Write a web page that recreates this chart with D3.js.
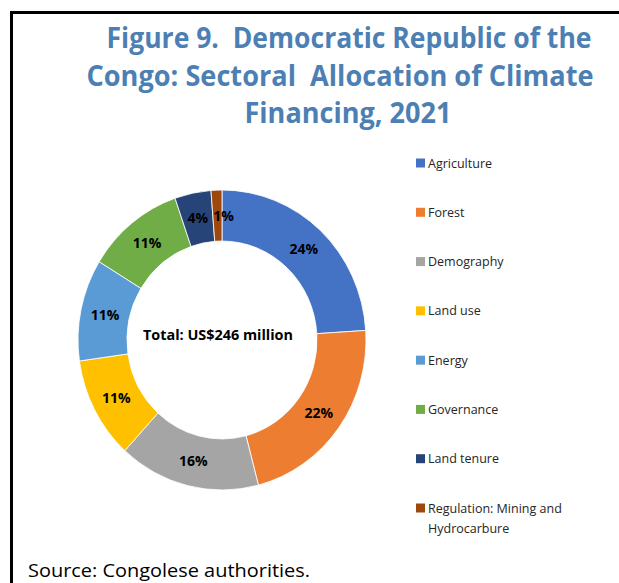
<!DOCTYPE html>
<html>
<head>
<meta charset="utf-8">
<script src="https://cdn.jsdelivr.net/npm/d3@7"></script>
<style>
    html, body { margin: 0; padding: 0; background: #fff; }
    svg { display: block; }
</style>
</head>
<body>
<div id="chart"></div>
<script>
"use strict";

const WIDTH = 619;
const HEIGHT = 583;

const titleLines = [
    "Figure 9.  Democratic Republic of the",
    "Congo: Sectoral  Allocation of Climate",
    "Financing, 2021"
];
const sectors = ["Agriculture", "Forest", "Demography", "Land use", "Energy", "Governance", "Land tenure", "Regulation: Mining and Hydrocarbure"];
// US$ million, total 246
const amounts = [59, 54, 39, 27, 27, 27, 10, 3];
const colors = ["#4472C4", "#ED7D31", "#A5A5A5", "#FFC000", "#5B9BD5", "#70AD47", "#264478", "#9E480E"];
const centerLabel = "Total: US$246 million";
const sourceNote = "Source: Congolese authorities.";

const CX = 222;
const CY = 340;
const OUTER = 144;
const INNER = 95;
const STRETCH = 150 / 144;

const svg = d3.select("#chart")
    .append("svg")
    .attr("width", WIDTH)
    .attr("height", HEIGHT)
    .style("font-family", "'Open Sans', 'Noto Sans', sans-serif");

// frame: top and left rules
svg.append("line").attr("x1", 10).attr("x2", WIDTH).attr("y1", 12.5).attr("y2", 12.5)
    .attr("stroke", "#000").attr("stroke-width", 3);
svg.append("line").attr("x1", 11.5).attr("x2", 11.5).attr("y1", 11).attr("y2", HEIGHT)
    .attr("stroke", "#000").attr("stroke-width", 3);

// title (keeps the double spaces)
const titleSpans = [
    { y: 48, x: 349, w: 485 },
    { y: 86, x: 340, w: 507 },
    { y: 123, x: 348, w: 207 }
];
svg.append("g")
    .selectAll("text")
    .data(titleLines)
    .join("text")
    .style("white-space", "pre")
    .attr("x", (_, i) => titleSpans[i].x)
    .attr("y", (_, i) => titleSpans[i].y)
    .attr("text-anchor", "middle")
    .attr("textLength", (_, i) => titleSpans[i].w)
    .attr("lengthAdjust", "spacingAndGlyphs")
    .attr("fill", "#4C7FB4")
    .attr("font-size", 28)
    .attr("font-weight", "bold")
    .text(d => d);

// donut
const pie = d3.pie().sort(null).value(d => d);
const arcs = pie(amounts);
const arc = d3.arc().innerRadius(INNER).outerRadius(OUTER);
const total = d3.sum(amounts);

const donut = svg.append("g")
    .attr("transform", `translate(${CX},${CY}) scale(1,${STRETCH})`);

donut.selectAll("path")
    .data(arcs)
    .join("path")
    .attr("d", arc)
    .attr("fill", (_, i) => colors[i])
    .attr("stroke", "#fff")
    .attr("stroke-width", 0.8);

const labels = svg.append("g").attr("transform", `translate(${CX},${CY})`);
labels.selectAll("text")
    .data(arcs)
    .join("text")
    .attr("x", d => arc.centroid(d)[0] + (d.index === 7 ? 6 : 0))
    .attr("y", d => arc.centroid(d)[1] * STRETCH + 5)
    .attr("text-anchor", "middle")
    .attr("font-size", 14)
    .attr("font-weight", "bold")
    .attr("fill", "#000")
    .text(d => Math.round(d.value / total * 100) + "%");

svg.append("text")
    .attr("x", 218)
    .attr("y", 340)
    .attr("text-anchor", "middle")
    .attr("textLength", 150)
    .attr("lengthAdjust", "spacingAndGlyphs")
    .attr("font-size", 15)
    .attr("font-weight", "bold")
    .attr("fill", "#000")
    .text(centerLabel);

// legend
const legendY = d3.scalePoint().domain(sectors).range([163, 508]);
const legend = svg.append("g")
    .selectAll("g")
    .data(sectors)
    .join("g")
    .attr("transform", d => `translate(416,${legendY(d)})`);

legend.append("rect")
    .attr("x", 0)
    .attr("y", -4.5)
    .attr("width", 9)
    .attr("height", 9)
    .attr("fill", (_, i) => colors[i]);

legend.append("text")
    .attr("x", 12)
    .attr("y", 4.5)
    .attr("font-size", 12.5)
    .attr("fill", "#262626")
    .each(function (d) {
        const t = d3.select(this);
        if (d.startsWith("Regulation")) {
            t.append("tspan").attr("x", 12).text("Regulation: Mining and");
            t.append("tspan").attr("x", 12).attr("dy", 20).text("Hydrocarbure");
        } else {
            t.text(d);
        }
    });

// source
svg.append("text")
    .attr("x", 28)
    .attr("y", 577)
    .attr("textLength", 282)
    .attr("lengthAdjust", "spacingAndGlyphs")
    .attr("font-size", 18)
    .attr("fill", "#000")
    .text(sourceNote);
</script>
</body>
</html>
